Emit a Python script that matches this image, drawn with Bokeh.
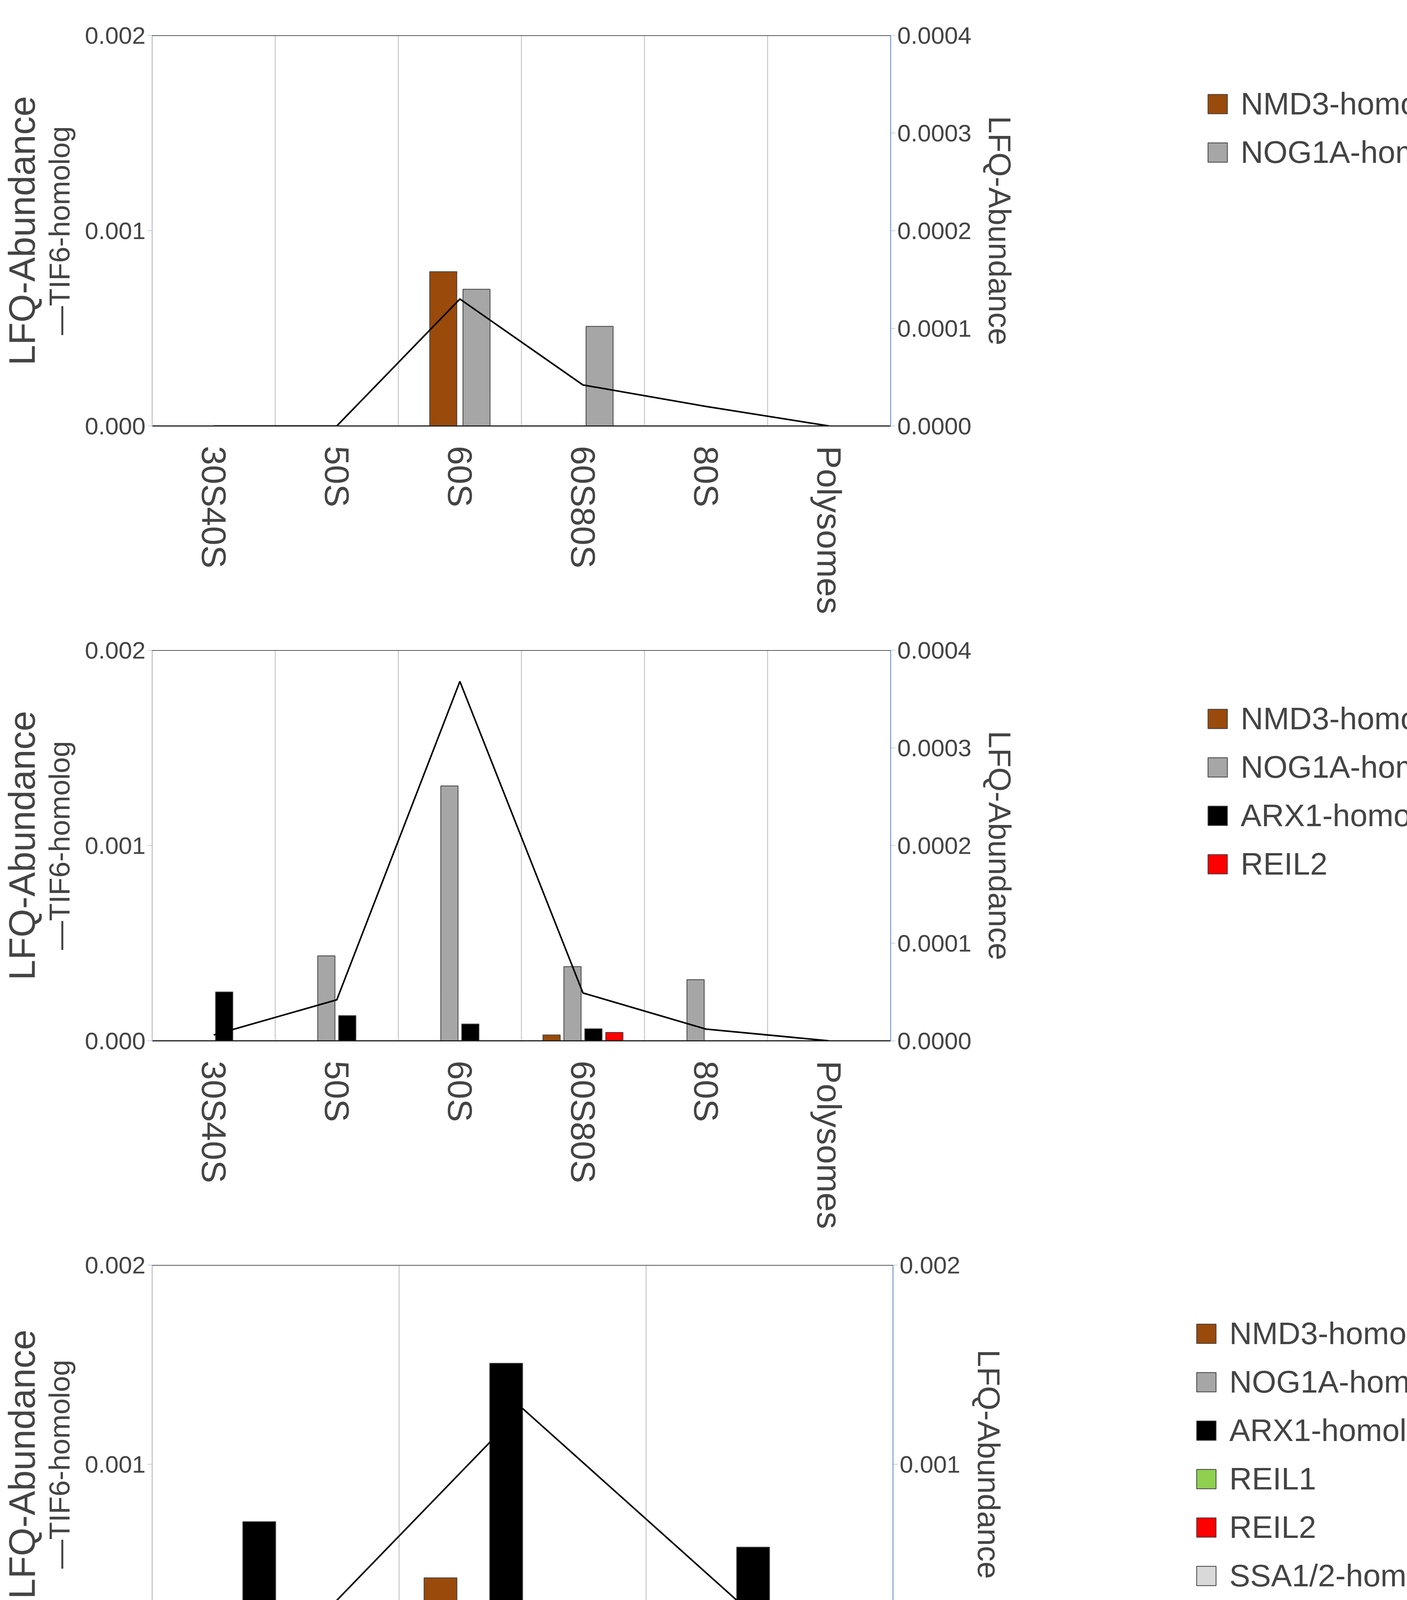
from bokeh.plotting import figure
from bokeh.models import (Range1d, LinearAxis, FixedTicker, NumeralTickFormatter, Legend, LegendItem, Span, Label)
from bokeh.layouts import column
from bokeh.embed import file_html
from bokeh.resources import INLINE

# ---- data ----
cats_ab = ["30S40S", "50S", "60S", "60S80S", "80S", "Polysomes"]
cats_c = ["60S", "60S80S", "80S"]

tif6_a = [0.0, 0.0, 0.00065, 0.00021, 0.0001, 0.0]
nmd3_a = [0, 0, 0.000158, 0, 0, 0]
nog1a_a = [0, 0, 0.00014, 0.000102, 0, 0]

tif6_b = [0.00003, 0.00021, 0.00184, 0.000245, 0.00006, 0.0]
nmd3_b = [0, 0, 0, 0.000006, 0, 0]
nog1a_b = [0, 0.000087, 0.000261, 0.000076, 0.0000626, 0]
arx1_b = [0.00005, 0.0000258, 0.0000172, 0.0000123, 0, 0]
reil2_b = [0, 0, 0, 0.0000086, 0, 0]

tif6_c = [0.0, 0.00128, 0.00017]
nmd3_c = [0.000113, 0.00043, 0.000158]
nog1a_c = [0, 0.000081, 0]
arx1_c = [0.000712, 0.001507, 0.000584]
reil1_c = [0.0000377, 0, 0]
reil2_c = [0.000013, 0, 0]
ssa_c = [0.000215, 0.000316, 0.000258]

COL = {"NMD3-homolog": "#9a4a0b", "NOG1A-homolog": "#a6a6a6", "ARX1-homolog": "#000000",
       "REIL1": "#8fd14f", "REIL2": "#ff0000", "SSA1/2-homolog": "#d9d9d9"}

FONT = "Liberation Sans"


def panel(letter, cats, tif6, series, rmax, rticks, rfmt, slot, bw, fw, fh, letter_x):
    n = len(cats)
    p = figure(frame_width=fw, frame_height=fh, output_backend="svg", toolbar_location=None,
               x_range=Range1d(0, n), y_range=Range1d(0, 0.002),
               min_border_left=10, min_border_right=10, min_border_top=90, min_border_bottom=30)
    p.outline_line_color = None
    p.extra_y_ranges = {"right": Range1d(0, rmax)}

    p.ygrid.visible = False
    p.xgrid.ticker = FixedTicker(ticks=list(range(n + 1)))
    p.xgrid.grid_line_color = "#d0d0d0"
    p.xgrid.grid_line_width = 3

    xa = p.xaxis[0]
    xa.ticker = FixedTicker(ticks=[i + 0.5 for i in range(n)])
    xa.major_label_overrides = {i + 0.5: c for i, c in enumerate(cats)}
    xa.major_label_orientation = "vertical"
    xa.major_label_text_font = FONT
    xa.major_label_text_font_size = "88px"
    xa.major_label_standoff = 45
    xa.major_tick_line_color = None
    xa.minor_tick_line_color = None
    xa.axis_line_color = "#222222"
    xa.axis_line_width = 3

    ya = p.yaxis[0]
    ya.ticker = FixedTicker(ticks=[0, 0.001, 0.002])
    ya.formatter = NumeralTickFormatter(format="0.000")
    ya.major_label_text_font = FONT
    ya.major_label_text_font_size = "62px"
    ya.axis_line_color = "#c8c8c8"
    ya.axis_line_width = 3
    ya.major_tick_line_color = "#8aaad8"
    ya.major_tick_out = 12
    ya.major_tick_in = 0
    ya.minor_tick_line_color = None
    ya.axis_label = "\u2014TIF6-homolog"
    ya.axis_label_text_font = FONT
    ya.axis_label_text_font_size = "74px"
    ya.axis_label_text_font_style = "normal"
    ya.axis_label_standoff = 20

    outer = LinearAxis(axis_label="LFQ-Abundance", axis_line_color=None,
                       ticker=FixedTicker(ticks=[]),
                       major_tick_line_color=None, minor_tick_line_color=None,
                       axis_label_text_font=FONT,
                       axis_label_text_font_size="94px", axis_label_text_font_style="normal",
                       axis_label_standoff=0)
    p.add_layout(outer, "left")

    ra = LinearAxis(y_range_name="right", ticker=FixedTicker(ticks=rticks),
                    formatter=NumeralTickFormatter(format=rfmt),
                    axis_label="LFQ-Abundance", axis_label_text_font=FONT,
                    axis_label_text_font_size="80px", axis_label_text_font_style="normal",
                    major_label_text_font=FONT, major_label_text_font_size="62px",
                    axis_line_color="#8aaad8", axis_line_width=3,
                    major_tick_line_color="#8aaad8", major_tick_out=12, major_tick_in=0,
                    minor_tick_line_color=None, axis_label_standoff=25)
    p.add_layout(ra, "right")

    p.add_layout(Span(location=0.002, dimension="width", line_color="#222222", line_width=3))

    k = len(series)
    items = []
    for j, (name, vals) in enumerate(series):
        off = (j - (k - 1) / 2) * slot
        xs = [i + 0.5 + off for i in range(n)]
        r = p.vbar(x=xs, top=vals, bottom=0, width=bw, y_range_name="right",
                   fill_color=COL[name], line_color="#404040", line_width=2)
        items.append(LegendItem(label=name, renderers=[r]))

    p.line([i + 0.5 for i in range(n)], tif6, line_color="black", line_width=4)

    p.add_layout(Label(x=letter_x, y=0.00214, text=letter, text_font=FONT,
                       text_font_size="170px", text_baseline="top", text_align="left"))

    leg = Legend(items=items, location="top_left", label_text_font=FONT,
                 label_text_font_size="80px", glyph_width=62, glyph_height=62,
                 spacing=32, border_line_color=None, label_standoff=28,
                 margin=130, padding=0, label_height=80)
    p.add_layout(leg, "right")
    return p


pa = panel("A", cats_ab, tif6_a,
           [("NMD3-homolog", nmd3_a), ("NOG1A-homolog", nog1a_a)],
           0.0004, [0, 0.0001, 0.0002, 0.0003, 0.0004], "0.0000", 0.27, 0.22, 1890, 1000, -1.4)
pb = panel("B", cats_ab, tif6_b,
           [("NMD3-homolog", nmd3_b), ("NOG1A-homolog", nog1a_b),
            ("ARX1-homolog", arx1_b), ("REIL2", reil2_b)],
           0.0004, [0, 0.0001, 0.0002, 0.0003, 0.0004], "0.0000", 0.17, 0.14, 1890, 1000, -1.4)
pc = panel("C", cats_c, tif6_c,
           [("NMD3-homolog", nmd3_c), ("NOG1A-homolog", nog1a_c), ("ARX1-homolog", arx1_c),
            ("REIL1", reil1_c), ("REIL2", reil2_c), ("SSA1/2-homolog", ssa_c)],
           0.002, [0, 0.001, 0.002], "0.000", 0.133, 0.133, 1896, 1020, -0.7)

layout = column(pa, pb, pc, spacing=0)
open("out.html", "w").write(file_html(layout, INLINE))
